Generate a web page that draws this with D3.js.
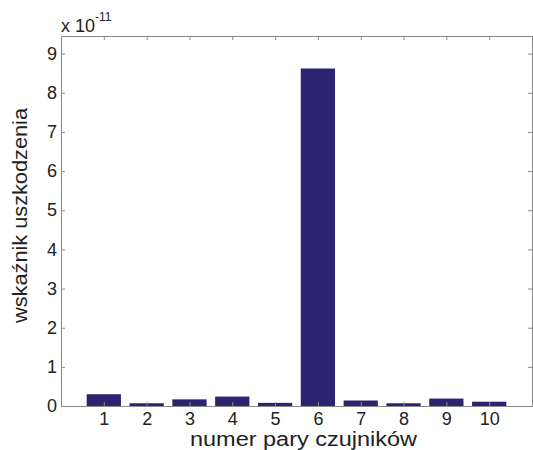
<!DOCTYPE html>
<html>
<head>
<meta charset="utf-8">
<script src="https://cdn.jsdelivr.net/npm/d3@7"></script>
<style>
  body { margin: 0; background: #fff; }
  svg text { font-family: "Liberation Sans", Arial, sans-serif; }
</style>
</head>
<body>
<svg id="chart" width="533" height="450"></svg>
<script>
// sensor pair numbers and damage index (x 1e-11)
const pairs = [1, 2, 3, 4, 5, 6, 7, 8, 9, 10];
const damage = [0.30, 0.07, 0.17, 0.24, 0.08, 8.62, 0.14, 0.07, 0.19, 0.11];
const yTicks = [0, 1, 2, 3, 4, 5, 6, 7, 8, 9];

const svg = d3.select('#chart');
const margin = {left: 61, top: 36, right: 1, bottom: 44};
const W = 533, H = 450;
const innerW = W - margin.left - margin.right;
const innerH = H - margin.top - margin.bottom;

let x = d3.scaleLinear().domain([0, 11]).range([0, innerW]);
let y = d3.scaleLinear().domain([0, 9.45]).range([innerH, 0]);
let barW = (x(1) - x(0)) * 0.8;

let g = svg.append('g').attr('transform', 'translate(' + margin.left + ',' + margin.top + ')');

///// bars /////
g.selectAll('.bar').data(pairs).enter().append('rect').classed('bar', true)
  .attr('x', (d) => x(d) - barW / 2)
  .attr('y', (d, i) => y(damage[i]))
  .attr('width', barW)
  .attr('height', (d, i) => y(0) - y(damage[i]))
  .attr('fill', '#2c2472');

///// axes (matlab style box, ticks inward) /////
const axisCol = '#8a8a8a';
const tickLen = 4;

let axBottom = g.append('g').attr('transform', 'translate(0,' + innerH + ')')
  .call(d3.axisBottom(x).tickValues(pairs).tickSize(-tickLen).tickPadding(6));
let axTop = g.append('g')
  .call(d3.axisTop(x).tickValues(pairs).tickSize(-tickLen).tickFormat(''));
let axLeft = g.append('g')
  .call(d3.axisLeft(y).tickValues(yTicks).tickSize(-tickLen).tickPadding(4));
let axRight = g.append('g').attr('transform', 'translate(' + innerW + ',0)')
  .call(d3.axisRight(y).tickValues(yTicks).tickSize(-tickLen).tickFormat(''));

[axBottom, axTop, axLeft, axRight].forEach(a => {
  a.select('.domain').attr('stroke', axisCol);
  a.selectAll('.tick line').attr('stroke', axisCol);
  a.selectAll('text').attr('fill', '#222').style('font-size', '18px');
});

///// labels /////
svg.append('text')
  .attr('x', 190).attr('y', 446)
  .attr('textLength', 227).attr('lengthAdjust', 'spacingAndGlyphs')
  .style('font-size', '20px').attr('fill', '#222')
  .text('numer pary czujników');

svg.append('text')
  .attr('transform', 'translate(27,323) rotate(-90)')
  .attr('textLength', 215).attr('lengthAdjust', 'spacingAndGlyphs')
  .style('font-size', '20px').attr('fill', '#222')
  .text('wskaźnik uszkodzenia');

let expo = svg.append('text').attr('x', 61).attr('y', 31.5)
  .style('font-size', '18px').attr('fill', '#222');
expo.append('tspan').text('x 10');
expo.append('tspan').attr('dy', -11).style('font-size', '12px').text('-11');
</script>
</body>
</html>
